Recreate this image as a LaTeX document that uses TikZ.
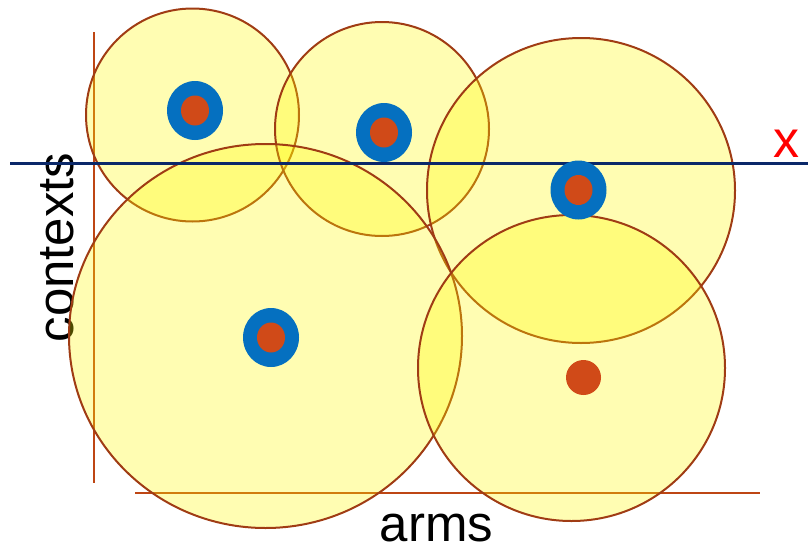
\documentclass[tikz,border=0pt]{standalone}
\usepackage{fontspec}
\setmainfont{Liberation Sans}
\definecolor{axisred}{RGB}{190,70,20}
\definecolor{rimbrown}{RGB}{160,60,20}
\definecolor{balloon}{RGB}{255,250,0}
\definecolor{navyline}{RGB}{10,40,105}
\definecolor{ringblue}{RGB}{5,112,192}
\definecolor{dotorange}{RGB}{208,74,24}
\definecolor{markred}{RGB}{255,0,0}
\begin{document}
\begin{tikzpicture}[x=1pt,y=-1pt,
  axisline/.style={draw=axisred,line width=2pt},
  ball/.style={draw=rimbrown,line width=2pt,fill=balloon,fill opacity=0.3},
  ring/.style={fill=ringblue},
  core/.style={fill=dotorange},
  lbl/.style={font=\fontsize{51}{51}\selectfont,inner sep=0pt}]
\useasboundingbox (0,0) rectangle (808,549);

% axes
\coordinate (yTop) at (94,32);
\coordinate (yBot) at (94,483);
\coordinate (xL) at (135,492.5);
\coordinate (xR) at (760,492.5);
\draw[axisline] (yTop) -- (yBot);
\draw[axisline] (xL) -- (xR);

% axis labels
\node[lbl,rotate=90,anchor=base] (ctx) at (73,247.5) {contexts};
\node[lbl,anchor=base] (arms) at (436.5,541) {arms};

% confidence balls
\path[ball] (192.5,115) circle (106.5);
\path[ball] (382,129) circle (107);
\path[ball] (581,190.5) ellipse [x radius=154,y radius=152.5];
\path[ball] (265.5,336) ellipse [x radius=196.5,y radius=192];
\path[ball] (571.5,368) ellipse [x radius=153.5,y radius=153];

% current context line
\coordinate (cL) at (10,163);
\coordinate (cR) at (808,163);
\draw[navyline,line width=3pt] (cL) -- (cR);
\node[text=markred,font=\fontsize{52}{52}\selectfont,inner sep=0pt,anchor=base] (xmark) at (786,157) {x};

% arms: ringed points and the plain point
\foreach \px/\py in {195/110.5, 384/132.5, 578.5/190, 271/337.5}{
  \path[ring] (\px,\py) ellipse [x radius=28,y radius=29.5];
  \path[core] (\px,\py) ellipse [x radius=14,y radius=15];
}
\path[core] (583.5,377.5) circle (17.5);
\end{tikzpicture}
\end{document}
